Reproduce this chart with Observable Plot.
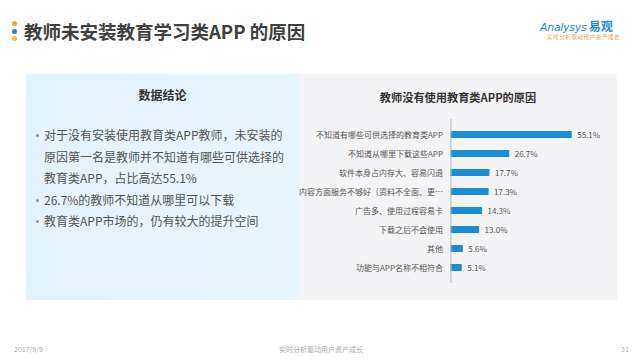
<!DOCTYPE html>
<html><head><meta charset="utf-8">
<script src="https://cdn.jsdelivr.net/npm/d3@7"></script>
<script src="https://cdn.jsdelivr.net/npm/@observablehq/plot@0.6"></script>
<style>
body{margin:0;width:640px;height:360px;background:#fff;position:relative;overflow:hidden;font-family:"Noto Sans CJK SC","Noto Sans",sans-serif;}
.abs{position:absolute;white-space:nowrap;}
.dot{position:absolute;width:5px;height:5px;border-radius:50%;left:12px;}
</style></head>
<body>
<div class="dot" style="top:21px;background:#efa636"></div>
<div class="dot" style="top:28.5px;background:#2f7fc4"></div>
<div class="dot" style="top:36px;background:#f1c040"></div>
<div class="abs" id="title" style="left:24px;top:19px;font-size:18.5px;font-weight:bold;color:#404040;line-height:24px;"></div>
<div class="abs" style="left:540px;top:19px;font-size:11px;color:#1e8ed2;line-height:14px;"><span style="font-style:italic;font-family:'DejaVu Sans';letter-spacing:-0.3px">Analysys</span> <b style="font-size:12px">易观</b></div>
<div class="abs" style="left:547px;top:33px;font-size:5.5px;color:#e0a040;line-height:8px;letter-spacing:0.6px">实时分析驱动用户资产成长</div>

<div class="abs" style="left:26px;top:74px;width:273px;height:226px;background:linear-gradient(90deg,#e4f2fc,#e9f5fd);"></div>
<div class="abs" style="left:299px;top:74px;width:318px;height:226px;background:#f4f3f6;"></div>

<div class="abs" id="leftTitle" style="left:26px;width:273px;top:87px;text-align:center;font-size:12px;font-weight:bold;color:#333;line-height:16px;"></div>
<div class="abs" id="bullets" style="left:34px;top:124px;font-size:12px;color:#555;line-height:21.5px;"></div>

<div class="abs" id="chartTitle" style="left:299px;width:318px;top:89px;text-align:center;font-size:11.2px;font-weight:bold;color:#333;line-height:16px;"></div>
<div class="abs" id="chart" style="left:279px;top:110px;"></div>

<div class="abs" id="fl" style="left:14px;top:344px;font-size:7px;color:#aaa;line-height:10px;"></div>
<div class="abs" id="fc" style="left:0;width:642px;top:344px;text-align:center;font-size:7px;color:#aaa;line-height:10px;"></div>
<div class="abs" id="fr" style="left:621px;top:344px;font-size:7px;color:#aaa;line-height:10px;"></div>

<script>
const pageTitle = "教师未安装教育学习类APP 的原因";
const leftTitle = "数据结论";
const bulletLines = [
  ["对于没有安装使用教育类APP教师，未安装的", "原因第一名是教师并不知道有哪些可供选择的", "教育类APP，占比高达55.1%"],
  ["26.7%的教师不知道从哪里可以下载"],
  ["教育类APP市场的，仍有较大的提升空间"]
];
const chartTitle = "教师没有使用教育类APP的原因";
const categories = [
  "不知道有哪些可供选择的教育类APP",
  "不知道从哪里下载这些APP",
  "软件本身占内存大、容易闪退",
  "内容方面服务不够好（资料不全面、更…",
  "广告多、使用过程容易卡",
  "下载之后不会使用",
  "其他",
  "功能与APP名称不相符合"
];
const values = [55.1, 26.7, 17.7, 17.3, 14.3, 13.0, 5.6, 5.1];
const footerLeft = "2017/9/9";
const footerCenter = "实时分析驱动用户资产成长";
const footerRight = "31";

document.getElementById("title").textContent = pageTitle;
document.getElementById("leftTitle").textContent = leftTitle;
document.getElementById("chartTitle").textContent = chartTitle;
document.getElementById("fl").textContent = footerLeft;
document.getElementById("fc").textContent = footerCenter;
document.getElementById("fr").textContent = footerRight;

const b = document.getElementById("bullets");
bulletLines.forEach(lines => {
  lines.forEach((ln, i) => {
    const d = document.createElement("div");
    d.style.position = "relative";
    d.style.paddingLeft = "10px";
    if (i === 0) {
      const s = document.createElement("div");
      s.style.position = "absolute"; s.style.left = "2px"; s.style.top = "10px";
      s.style.width = "3px"; s.style.height = "3px"; s.style.borderRadius = "50%";
      s.style.background = "#8a9aa8";
      d.appendChild(s);
    }
    d.appendChild(document.createTextNode(ln));
    b.appendChild(d);
  });
});

const data = categories.map((c, i) => ({cat: c, v: values[i]}));
const fmt = v => v.toFixed(1) + "%";
const chart = Plot.plot({
  width: 339, height: 183,
  marginLeft: 171.5, marginRight: 35.5, marginTop: 9, marginBottom: 10,
  style: {background: "transparent", fontFamily: '"Noto Sans CJK SC","Noto Sans",sans-serif', fontSize: "8px", color: "#555"},
  x: {domain: [0, 60], axis: null},
  y: {domain: categories, padding: 0.61, label: null, tickSize: 0, tickPadding: 8},
  marks: [
    Plot.barX(data, {x: "v", y: "cat", fill: "#1a8dd5"}),
    Plot.ruleX([0], {stroke: "#b8b8b8", strokeWidth: 1}),
    Plot.text(data, {x: "v", y: "cat", text: d => fmt(d.v), textAnchor: "start", dx: 5, fill: "#555", fontSize: 8})
  ]
});
document.getElementById("chart").appendChild(chart);
</script>
</body></html>
